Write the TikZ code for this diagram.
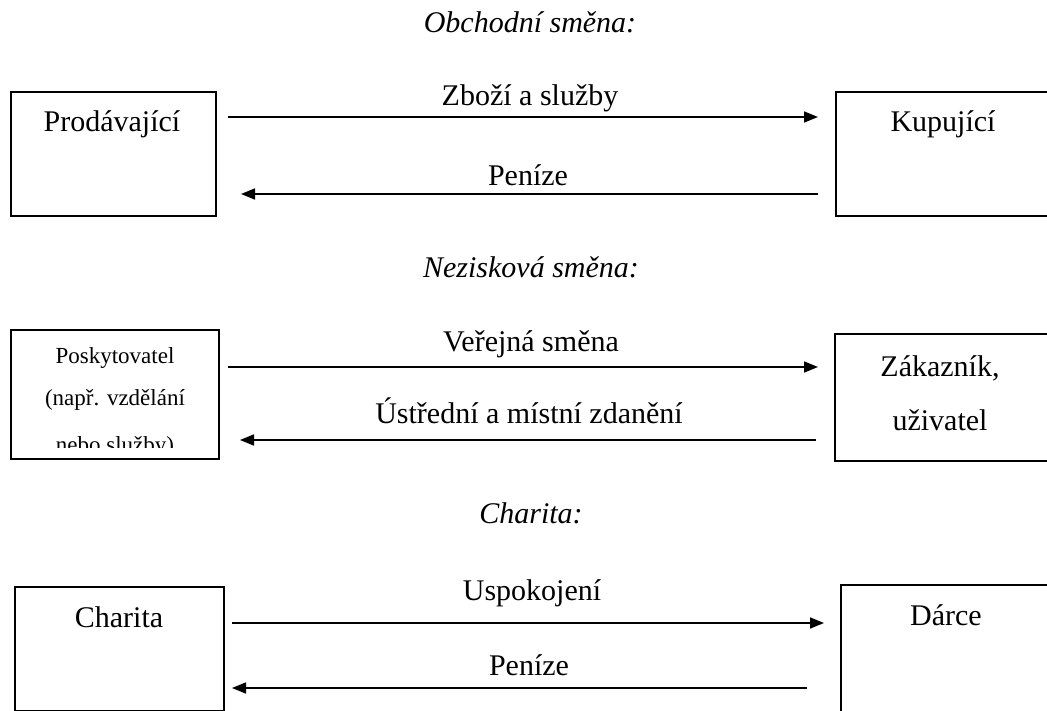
\documentclass[tikz,border=0pt]{standalone}
\usepackage{fontspec}
\setmainfont{Liberation Serif}
\usetikzlibrary{arrows.meta}
\tikzset{
  box/.style={draw, line width=1.6pt, rectangle, anchor=north west, inner sep=0pt},
  lbl/.style={anchor=base, inner sep=0pt, font=\fontsize{30}{35}\selectfont},
  ttl/.style={anchor=base, inner sep=0pt, font=\fontsize{30}{35}\selectfont\itshape},
  small/.style={anchor=base, inner sep=0pt, font=\fontsize{23}{27}\selectfont},
  arr/.style={line width=1.6pt, -{Triangle[length=14pt,width=11pt]}}
}
\begin{document}
\begin{tikzpicture}[x=1pt,y=-1pt]
\useasboundingbox (0,0) rectangle (1047,711);
\fill[white] (0,0) rectangle (1047,711);
\clip (0,0) rectangle (1047,711);

% ---- Obchodni smena ----
\node[ttl] (t1) at (530,33) {Obchodní směna:};
\node[box, minimum width=205, minimum height=124] (prod) at (10,91) {};
\node[lbl] (prodt) at (112,132) {Prodávající};
\node[box, minimum width=280, minimum height=124] (kup) at (835,91) {};
\node[lbl] (kupt) at (943,132) {Kupující};
\coordinate (a1s) at (228,117);
\coordinate (a1e) at (818,117);
\coordinate (a2s) at (818,194);
\coordinate (a2e) at (241,194);
\draw[arr] (a1s) -- (a1e);
\draw[arr] (a2s) -- (a2e);
\node[lbl] (l1) at (530,106) {Zboží a služby};
\node[lbl] (l2) at (528,186) {Peníze};

% ---- Neziskova smena ----
\node[ttl] (t2) at (531,278) {Nezisková směna:};
\node[box, minimum width=208, minimum height=129] (posk) at (10,329) {};
\node[small] (p1) at (115,363) {Poskytovatel};
\node[small] (p2) at (115,405) {(např. vzdělání};
\begin{scope}
\clip (12,331) rectangle (216,447);
\node[small] (p3) at (115,452) {nebo služby)};
\end{scope}
\node[box, minimum width=280, minimum height=127] (zak) at (834,333) {};
\node[lbl] (zt1) at (940,377) {Zákazník,};
\node[lbl] (zt2) at (940,430) {uživatel};
\coordinate (a3s) at (228,367);
\coordinate (a3e) at (818,367);
\coordinate (a4s) at (816,440);
\coordinate (a4e) at (240,440);
\draw[arr] (a3s) -- (a3e);
\draw[arr] (a4s) -- (a4e);
\node[lbl] (l3) at (531,352) {Veřejná směna};
\node[lbl] (l4) at (529,423) {Ústřední a místní zdanění};

% ---- Charita ----
\node[ttl] (t3) at (531,523) {Charita:};
\node[box, minimum width=209, minimum height=124] (char) at (14,586) {};
\node[lbl] (ct) at (119,627) {Charita};
\node[box, minimum width=280, minimum height=160] (darce) at (840,584) {};
\node[lbl] (dt) at (946,625) {Dárce};
\coordinate (a5s) at (232,623);
\coordinate (a5e) at (824,623);
\coordinate (a6s) at (807,688);
\coordinate (a6e) at (232,688);
\draw[arr] (a5s) -- (a5e);
\draw[arr] (a6s) -- (a6e);
\node[lbl] (l5) at (532,600) {Uspokojení};
\node[lbl] (l6) at (529,675) {Peníze};
\end{tikzpicture}
\end{document}
